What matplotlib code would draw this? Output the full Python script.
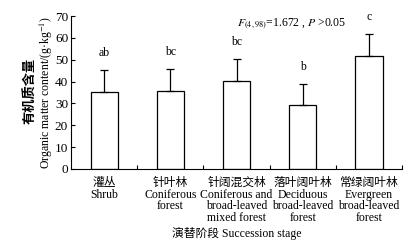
import matplotlib
matplotlib.use("Agg")
import matplotlib.pyplot as plt
import numpy as np

plt.rcParams['font.family'] = ['Liberation Serif', 'Noto Sans CJK SC']
plt.rcParams['mathtext.fontset'] = 'stix'

stages = ['灌丛\nShrub',
          '针叶林\nConiferous\nforest',
          '针阔混交林\nConiferous and\nbroad-leaved\nmixed forest',
          '落叶阔叶林\nDeciduous\nbroad-leaved\nforest',
          '常绿阔叶林\nEvergreen\nbroad-leaved\nforest']
means = [35.2, 35.7, 40.3, 29.2, 51.7]
errs = [10.0, 9.9, 9.9, 9.6, 10.2]
letters = ['ab', 'bc', 'bc', 'b', 'c']

fig = plt.figure(figsize=(4.15, 2.48), dpi=100)
ax = fig.add_axes([0.171, 0.319, 0.798, 0.616])

x = np.arange(len(means))
ax.bar(x, means, width=0.41, color='white', edgecolor='black', linewidth=0.9)
ax.errorbar(x, means, yerr=[np.zeros(len(errs)), errs], fmt='none',
            ecolor='black', elinewidth=0.9, capsize=3, capthick=0.9)
for xi, m, e, l in zip(x, means, errs, letters):
    ax.annotate(l, (xi, m + e), xytext=(0, 8), textcoords='offset points',
                ha='center', va='bottom', fontsize=8.5)

ax.text(2.0, 66.5, r'$F_{(4,98)}$=1.672 , $P$ >0.05', fontsize=8.5, va='center')

ax.set_xlim(-0.5, 4.5)
ax.set_ylim(0, 70)
ax.set_yticks(range(0, 71, 10))
ax.set_xticks(np.arange(0.5, 4.6, 1))
ax.set_xticklabels([])
ax.set_xticks(x, minor=True)
ax.set_xticklabels(stages, minor=True, fontsize=8.5, linespacing=0.95)
ax.tick_params(axis='x', which='minor', length=0, pad=6)
ax.tick_params(axis='x', which='major', direction='in', length=3)
ax.tick_params(axis='y', direction='in', length=3, labelsize=9.5, pad=2)
ax.spines['top'].set_visible(False)
ax.spines['right'].set_visible(False)

# y label: Chinese line (bold) and English line
ax.text(-0.12, 0.51, '有机质含量', transform=ax.transAxes, rotation=90,
        ha='center', va='center', fontsize=9.5, fontweight='bold')
ax.text(-0.073, 0.5, 'Organic matter content/(g·kg$^{-1}$)', transform=ax.transAxes,
        rotation=90, ha='center', va='center', fontsize=8.5)
ax.set_xlabel('演替阶段 Succession stage', fontsize=8.5, labelpad=2)

fig.savefig('out.png', dpi=100)
